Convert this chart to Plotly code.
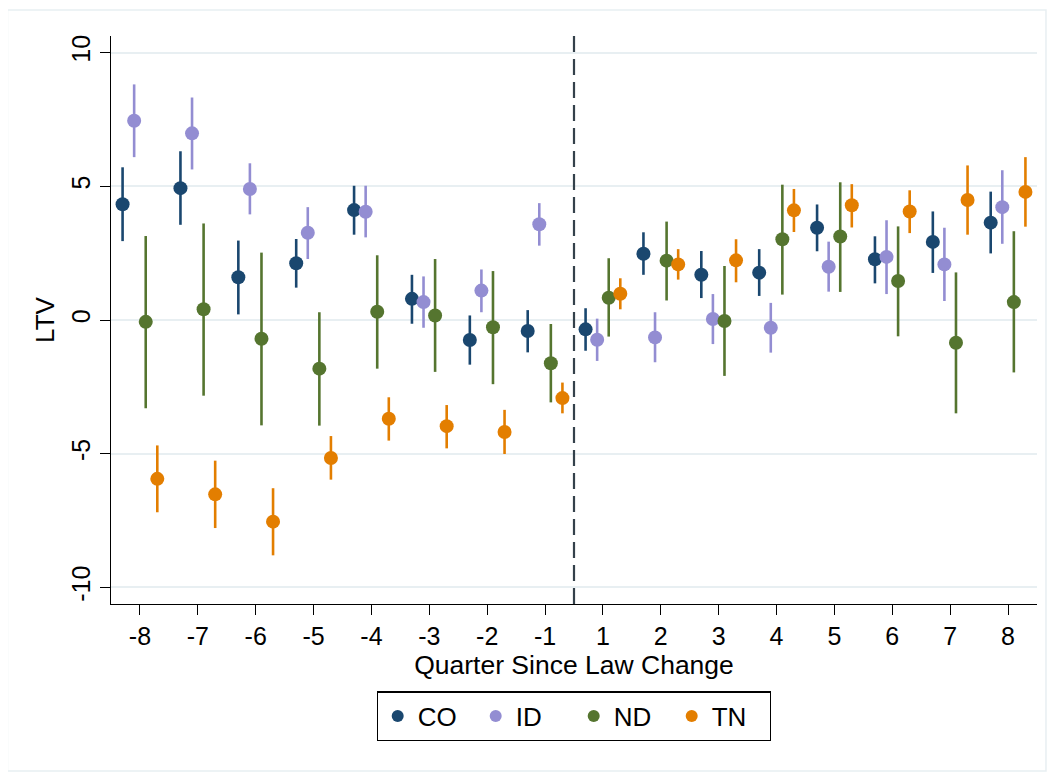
import plotly.graph_objects as go

quarters = ["-8", "-7", "-6", "-5", "-4", "-3", "-2", "-1",
            "1", "2", "3", "4", "5", "6", "7", "8"]

states = ["CO", "ID", "ND", "TN"]

co_est = [4.33, 4.93, 1.60, 2.12, 4.11, 0.79, -0.75, -0.41, -0.35, 2.48, 1.69, 1.77, 3.45, 2.27, 2.92, 3.64]
co_lo = [2.95, 3.56, 0.21, 1.21, 3.19, -0.14, -1.67, -1.21, -1.15, 1.69, 0.82, 0.90, 2.57, 1.37, 1.76, 2.49]
co_hi = [5.71, 6.31, 2.97, 3.03, 5.02, 1.69, 0.17, 0.37, 0.44, 3.28, 2.58, 2.65, 4.32, 3.13, 4.06, 4.80]

id_est = [7.45, 6.98, 4.90, 3.26, 4.05, 0.67, 1.10, 3.58, -0.74, -0.65, 0.04, -0.29, 1.99, 2.36, 2.08, 4.22]
id_lo = [6.09, 5.63, 3.95, 2.28, 3.09, -0.29, 0.29, 2.78, -1.53, -1.58, -0.90, -1.22, 1.06, 0.97, 0.71, 2.85]
id_hi = [8.81, 8.32, 5.86, 4.22, 5.02, 1.63, 1.89, 4.37, 0.05, 0.29, 0.97, 0.64, 2.93, 3.73, 3.45, 5.60]

nd_est = [-0.07, 0.40, -0.70, -1.82, 0.31, 0.17, -0.27, -1.62, 0.83, 2.22, -0.04, 3.02, 3.12, 1.46, -0.85, 0.67]
nd_lo = [-3.30, -2.83, -3.94, -3.95, -1.82, -1.94, -2.40, -3.08, -0.62, 0.73, -2.09, 0.95, 1.05, -0.61, -3.49, -1.96]
nd_hi = [3.14, 3.61, 2.52, 0.29, 2.42, 2.28, 1.83, -0.15, 2.31, 3.68, 2.02, 5.06, 5.15, 3.50, 1.78, 3.32]

tn_est = [-5.94, -6.52, -7.54, -5.16, -3.69, -3.97, -4.19, -2.92, 0.98, 2.08, 2.23, 4.10, 4.29, 4.06, 4.49, 4.79]
tn_lo = [-7.19, -7.78, -8.80, -5.97, -4.51, -4.80, -5.01, -3.49, 0.40, 1.51, 1.41, 3.29, 3.46, 3.25, 3.19, 3.49]
tn_hi = [-4.69, -5.26, -6.29, -4.34, -2.89, -3.18, -3.36, -2.34, 1.56, 2.65, 3.02, 4.90, 5.08, 4.85, 5.78, 6.09]

y_ticks = [-10, -5, 0, 5, 10]

series = [
    ("CO", co_est, co_lo, co_hi, "#1a476f", -0.3),
    ("ID", id_est, id_lo, id_hi, "#938dd2", -0.1),
    ("ND", nd_est, nd_lo, nd_hi, "#55752f", 0.1),
    ("TN", tn_est, tn_lo, tn_hi, "#e37e00", 0.3),
]

FONT = "Liberation Sans, Arial, Helvetica, sans-serif"

fig = go.Figure()
for name, est, lo, hi, color, off in series:
    xs = [i + off for i in range(len(quarters))]
    fig.add_trace(go.Scatter(
        x=xs, y=est, mode="markers", name=name,
        marker=dict(color=color, size=14, line=dict(width=0)),
        error_y=dict(type="data", symmetric=False,
                     array=[h - e for h, e in zip(hi, est)],
                     arrayminus=[e - l for e, l in zip(est, lo)],
                     color=color, thickness=2.6, width=0),
    ))

# zero reference line
fig.add_shape(type="line", xref="paper", x0=0, x1=1, yref="y", y0=0, y1=0,
              line=dict(color="#808080", width=2, dash="14px,7px"), layer="below")
# law change line
fig.add_shape(type="line", xref="x", x0=7.5, x1=7.5, yref="paper", y0=0, y1=1,
              line=dict(color="#34414b", width=2.2, dash="16px,7px"), layer="above")
# figure outline
fig.add_shape(type="rect", xref="paper", yref="paper",
              x0=-0.1118, x1=1.0097, y0=-0.294, y1=1.0458,
              line=dict(color="#e8eff2", width=1.5), layer="below")

fig.update_layout(
    width=1048, height=764,
    paper_bgcolor="white", plot_bgcolor="white",
    margin=dict(l=103, r=19, t=28, b=168, autoexpand=False),
    font=dict(family=FONT, size=25, color="black"),
    showlegend=True,
    legend=dict(orientation="h", x=0.5, xanchor="center", y=-0.154, yanchor="top",
                bordercolor="black", borderwidth=1.2, font=dict(size=26),
                entrywidth=53, entrywidthmode="pixels", itemsizing="constant"),
    xaxis=dict(range=[-0.5, 15.5], tickmode="array", automargin=False,
               tickvals=list(range(len(quarters))), ticktext=quarters,
               showgrid=False, zeroline=False, showline=True, linecolor="black",
               linewidth=1.3, ticks="outside", ticklen=10, tickwidth=1.3,
               tickcolor="black", tickfont=dict(size=25),
               title=dict(text="Quarter Since Law Change", font=dict(size=26.5), standoff=2)),
    yaxis=dict(range=[-10.62, 10.62], tickmode="array", tickvals=y_ticks, automargin=False,
               ticktext=[str(v) for v in y_ticks], tickangle=-90,
               showgrid=True, gridcolor="#e8eff2", gridwidth=1.5, zeroline=False,
               showline=True, linecolor="black", linewidth=1.3,
               ticks="outside", ticklen=10, tickwidth=1.3, tickcolor="black",
               tickfont=dict(size=25),
               title=dict(text="LTV", font=dict(size=26), standoff=4)),
)

fig.write_html("out.html")
